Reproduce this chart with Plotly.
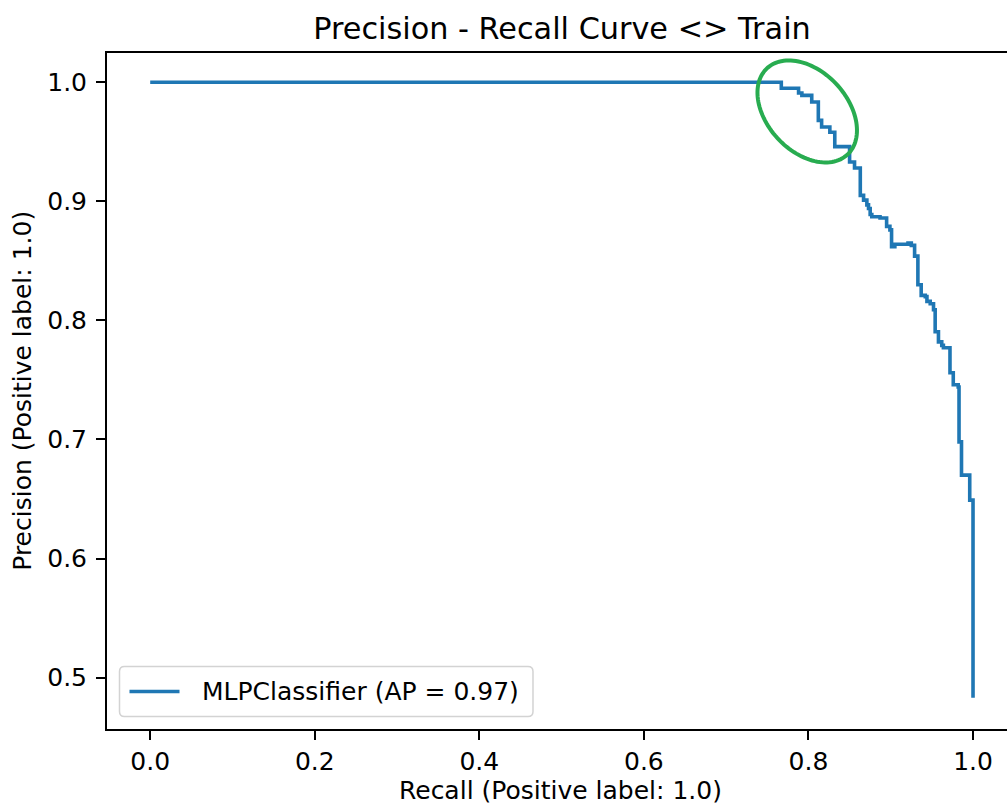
import numpy as np
import plotly.graph_objects as go

# ---------------- data ----------------
recall = [0.000, 0.767, 0.788, 0.792, 0.804, 0.812, 0.816, 0.826, 0.832, 0.850,
          0.856, 0.863, 0.867, 0.871, 0.873, 0.875, 0.877, 0.887, 0.895, 0.899,
          0.901, 0.905, 0.921, 0.925, 0.929, 0.933, 0.937, 0.942, 0.944, 0.948,
          0.952, 0.954, 0.958, 0.962, 0.964, 0.972, 0.976, 0.982, 0.983, 0.986,
          0.996, 1.000]
precision = [1.000, 0.995, 0.991, 0.989, 0.9835, 0.968, 0.9625, 0.958, 0.946, 0.933,
             0.928, 0.905, 0.901, 0.897, 0.894, 0.889, 0.887, 0.886, 0.879, 0.876,
             0.862, 0.864, 0.865, 0.863, 0.854, 0.830, 0.821, 0.820, 0.816, 0.814,
             0.809, 0.7905, 0.782, 0.779, 0.777, 0.756, 0.746, 0.744, 0.698, 0.670,
             0.649, 0.483]
series_name = "MLPClassifier (AP = 0.97)"
title_text = "Precision - Recall Curve <> Train"
x_label = "Recall (Positive label: 1.0)"
y_label = "Precision (Positive label: 1.0)"
x_ticks = [0.0, 0.2, 0.4, 0.6, 0.8, 1.0]
x_ticklabels = ["0.0", "0.2", "0.4", "0.6", "0.8", "1.0"]
y_ticks = [0.5, 0.6, 0.7, 0.8, 0.9, 1.0]
y_ticklabels = ["0.5", "0.6", "0.7", "0.8", "0.9", "1.0"]

# ---------------- layout constants ----------------
W, H = 1007, 807
M_L, M_R, M_T, M_B = 107, 0, 53, 77.5
X_RANGE = [-0.0525, 1.0413]
Y_RANGE = [0.4568, 1.0246]
FONT = "DejaVu Sans"
LINE_COLOR = "#1f77b4"
PW = W - M_L - M_R
PH = H - M_T - M_B
px_per_x = PW / (X_RANGE[1] - X_RANGE[0])
px_per_y = PH / (Y_RANGE[1] - Y_RANGE[0])


def px_to_paper(px, py):
    return (px - M_L) / PW, (H - M_B - py) / PH


fig = go.Figure()
fig.add_trace(go.Scatter(
    x=recall, y=precision, mode="lines", name=series_name,
    line=dict(color=LINE_COLOR, width=3.6, shape="hv"),
    showlegend=False, hoverinfo="x+y"))

shapes = []

# hand-drawn green ellipse annotation (defined in data units, sized in px)
ell_cx, ell_cy = 0.7985, 0.9755
ell_a, ell_b, ell_theta = 59.0, 40.0, np.deg2rad(47)
t = np.linspace(0, 2 * np.pi, 120)
dx = ell_a * np.cos(t) * np.cos(ell_theta) - ell_b * np.sin(t) * np.sin(ell_theta)
dy = ell_a * np.cos(t) * np.sin(ell_theta) + ell_b * np.sin(t) * np.cos(ell_theta)
ex = ell_cx + dx / px_per_x
ey = ell_cy - dy / px_per_y
path = "M " + " L ".join(f"{a:.5f},{b:.5f}" for a, b in zip(ex, ey)) + " Z"
shapes.append(dict(type="path", xref="x", yref="y", path=path,
                   line=dict(color="rgb(40,172,80)", width=4), layer="above"))

# legend box (rounded) drawn manually, matplotlib-like
bx0, bx1, by0, by1, rad = 119.5, 533.0, 667.0, 717.0, 5.0


def P(px, py):
    a, b = px_to_paper(px, py)
    return f"{a:.5f},{b:.5f}"


box = (f"M {P(bx0 + rad, by0)} L {P(bx1 - rad, by0)} Q {P(bx1, by0)} {P(bx1, by0 + rad)} "
       f"L {P(bx1, by1 - rad)} Q {P(bx1, by1)} {P(bx1 - rad, by1)} "
       f"L {P(bx0 + rad, by1)} Q {P(bx0, by1)} {P(bx0, by1 - rad)} "
       f"L {P(bx0, by0 + rad)} Q {P(bx0, by0)} {P(bx0 + rad, by0)} Z")
shapes.append(dict(type="path", xref="paper", yref="paper", path=box,
                   line=dict(color="#d3d3d3", width=1.5), fillcolor="rgba(255,255,255,0.8)",
                   layer="above"))
lx0, ly = px_to_paper(129.5, 692)
lx1, _ = px_to_paper(179.5, 692)
shapes.append(dict(type="line", xref="paper", yref="paper", x0=lx0, x1=lx1, y0=ly, y1=ly,
                   line=dict(color=LINE_COLOR, width=3.6), layer="above"))

annotations = []
tx, ty = px_to_paper(199.5, 692)
annotations.append(dict(text=series_name, x=tx, y=ty, xref="paper", yref="paper",
                        xanchor="left", yanchor="middle", showarrow=False,
                        font=dict(family=FONT, size=25, color="black")))
ax_, ay_ = px_to_paper(560, 791)
annotations.append(dict(text=x_label, x=ax_, y=ay_, xref="paper", yref="paper",
                        xanchor="center", yanchor="middle", showarrow=False,
                        font=dict(family=FONT, size=25, color="black")))
yx_, yy_ = px_to_paper(23, 391)
annotations.append(dict(text=y_label, x=yx_, y=yy_, xref="paper", yref="paper",
                        xanchor="center", yanchor="middle", showarrow=False, textangle=-90,
                        font=dict(family=FONT, size=25, color="black")))

fig.update_layout(
    template="none",
    width=W, height=H,
    margin=dict(l=M_L, r=M_R, t=M_T, b=M_B, pad=0),
    paper_bgcolor="white", plot_bgcolor="white",
    font=dict(family=FONT, size=25, color="black"),
    title=dict(text=title_text, x=562 / W, xref="container", xanchor="center",
               y=1 - 28.5 / H, yref="container", yanchor="middle",
               font=dict(family=FONT, size=30.3, color="black")),
    shapes=shapes, annotations=annotations, showlegend=False,
)
fig.update_xaxes(range=X_RANGE, tickvals=x_ticks, ticktext=x_ticklabels,
                 ticks="outside", ticklen=9, tickwidth=2, tickcolor="black",
                 showline=True, linecolor="black", linewidth=2, mirror=True,
                 showgrid=False, zeroline=False, automargin=False,
                 tickfont=dict(family=FONT, size=25, color="black"),
                 ticklabelstandoff=0)
fig.update_yaxes(range=Y_RANGE, tickvals=y_ticks, ticktext=y_ticklabels,
                 ticks="outside", ticklen=9, tickwidth=2, tickcolor="black",
                 showline=True, linecolor="black", linewidth=2, mirror=False,
                 showgrid=False, zeroline=False, automargin=False,
                 tickfont=dict(family=FONT, size=25, color="black"),
                 ticklabelstandoff=4)

fig.write_html("out.html")
